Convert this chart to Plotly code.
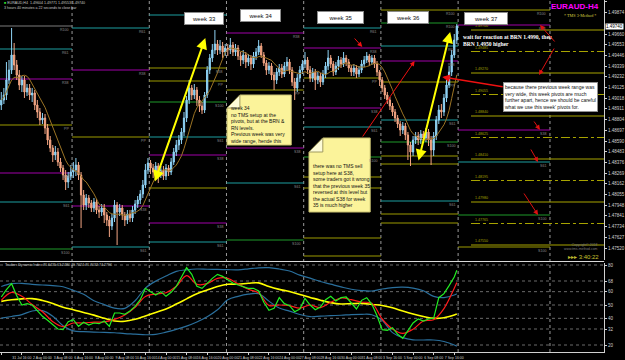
import plotly.graph_objects as go
import pandas as pd

W, H = 625, 360

# ---------------- price data (H4 bars, bar index 0..177) ----------------
first_open = 1.4895
close = [1.4900, 1.4905, 1.4920, 1.4930, 1.4945, 1.4935, 1.4925, 1.4915, 1.4920, 1.4908,
         1.4912, 1.4905, 1.4907, 1.4895, 1.4888, 1.4880, 1.4882, 1.4872, 1.4860, 1.4852,
         1.4845, 1.4848, 1.4838, 1.4832, 1.4825, 1.4818, 1.4824, 1.4828, 1.4830, 1.4835,
         1.4825, 1.4805, 1.4795, 1.4802, 1.4797, 1.4792, 1.4798, 1.4790, 1.4788, 1.4792,
         1.4785, 1.4780, 1.4774, 1.4782, 1.4795, 1.4788, 1.4792, 1.4785, 1.4780, 1.4786,
         1.4782, 1.4790, 1.4796, 1.4800, 1.4806, 1.4815, 1.4830, 1.4837, 1.4832, 1.4828,
         1.4834, 1.4825, 1.4830, 1.4824, 1.4832, 1.4828, 1.4838, 1.4848, 1.4855, 1.4860,
         1.4868, 1.4882, 1.4900, 1.4912, 1.4905, 1.4910, 1.4900, 1.4894, 1.4890, 1.4905,
         1.4930, 1.4942, 1.4950, 1.4956, 1.4950, 1.4954, 1.4948, 1.4952, 1.4950, 1.4955,
         1.4948, 1.4952, 1.4944, 1.4940, 1.4945, 1.4938, 1.4942, 1.4936, 1.4944, 1.4948,
         1.4954, 1.4945, 1.4937, 1.4930, 1.4934, 1.4925, 1.4920, 1.4928, 1.4932, 1.4926,
         1.4934, 1.4938, 1.4930, 1.4918, 1.4912, 1.4922, 1.4930, 1.4936, 1.4940, 1.4930,
         1.4922, 1.4928, 1.4920, 1.4924, 1.4918, 1.4926, 1.4934, 1.4942, 1.4936, 1.4928,
         1.4934, 1.4940, 1.4936, 1.4942, 1.4938, 1.4932, 1.4928, 1.4932, 1.4926, 1.4930,
         1.4936, 1.4940, 1.4944, 1.4938, 1.4942, 1.4936, 1.4928, 1.4920, 1.4912, 1.4905,
         1.4900, 1.4894, 1.4888, 1.4882, 1.4876, 1.4870, 1.4874, 1.4865, 1.4855, 1.4848,
         1.4860, 1.4864, 1.4860, 1.4866, 1.4862, 1.4868, 1.4860, 1.4850, 1.4864, 1.4880,
         1.4890, 1.4888, 1.4902, 1.4915, 1.4928, 1.4945, 1.4960, 1.4974]
high = [1.4908, 1.4912, 1.4938, 1.4940, 1.4972, 1.4957, 1.4940, 1.4930, 1.4924, 1.4924,
        1.4916, 1.4916, 1.4912, 1.4910, 1.4900, 1.4892, 1.4887, 1.4886, 1.4876, 1.4864,
        1.4855, 1.4854, 1.4852, 1.4842, 1.4835, 1.4830, 1.4828, 1.4835, 1.4838, 1.4842,
        1.4838, 1.4828, 1.4810, 1.4806, 1.4805, 1.4800, 1.4802, 1.4801, 1.4794, 1.4796,
        1.4796, 1.4788, 1.4784, 1.4786, 1.4800, 1.4798, 1.4796, 1.4795, 1.4788, 1.4790,
        1.4790, 1.4794, 1.4800, 1.4804, 1.4810, 1.4820, 1.4836, 1.4842, 1.4840, 1.4836,
        1.4838, 1.4837, 1.4834, 1.4834, 1.4836, 1.4835, 1.4842, 1.4852, 1.4860, 1.4865,
        1.4872, 1.4888, 1.4904, 1.4920, 1.4915, 1.4916, 1.4913, 1.4904, 1.4898, 1.4908,
        1.4934, 1.4946, 1.4956, 1.4970, 1.4960, 1.4960, 1.4958, 1.4956, 1.4956, 1.4962,
        1.4958, 1.4956, 1.4955, 1.4948, 1.4950, 1.4948, 1.4946, 1.4945, 1.4948, 1.4952,
        1.4960, 1.4957, 1.4948, 1.4940, 1.4938, 1.4937, 1.4928, 1.4932, 1.4936, 1.4936,
        1.4938, 1.4943, 1.4941, 1.4933, 1.4922, 1.4926, 1.4934, 1.4940, 1.4948, 1.4943,
        1.4934, 1.4932, 1.4931, 1.4928, 1.4927, 1.4930, 1.4938, 1.4950, 1.4945, 1.4939,
        1.4938, 1.4944, 1.4943, 1.4948, 1.4945, 1.4941, 1.4935, 1.4936, 1.4935, 1.4934,
        1.4940, 1.4944, 1.4948, 1.4946, 1.4945, 1.4945, 1.4939, 1.4930, 1.4923, 1.4915,
        1.4908, 1.4903, 1.4897, 1.4891, 1.4885, 1.4879, 1.4878, 1.4877, 1.4868, 1.4858,
        1.4864, 1.4868, 1.4868, 1.4870, 1.4869, 1.4872, 1.4871, 1.4864, 1.4868, 1.4884,
        1.4895, 1.4896, 1.4906, 1.4920, 1.4934, 1.4950, 1.4966, 1.4976]
low = [1.4890, 1.4896, 1.4900, 1.4916, 1.4926, 1.4930, 1.4920, 1.4910, 1.4908, 1.4902,
       1.4904, 1.4900, 1.4898, 1.4890, 1.4882, 1.4875, 1.4876, 1.4866, 1.4855, 1.4848,
       1.4838, 1.4840, 1.4834, 1.4828, 1.4820, 1.4810, 1.4812, 1.4820, 1.4822, 1.4824,
       1.4820, 1.4772, 1.4790, 1.4790, 1.4792, 1.4788, 1.4788, 1.4786, 1.4782, 1.4784,
       1.4777, 1.4774, 1.4763, 1.4770, 1.4778, 1.4755, 1.4784, 1.4780, 1.4774, 1.4776,
       1.4778, 1.4778, 1.4786, 1.4792, 1.4796, 1.4802, 1.4812, 1.4826, 1.4826, 1.4822,
       1.4824, 1.4817, 1.4822, 1.4820, 1.4820, 1.4824, 1.4825, 1.4835, 1.4844, 1.4850,
       1.4856, 1.4864, 1.4878, 1.4896, 1.4900, 1.4901, 1.4894, 1.4888, 1.4886, 1.4887,
       1.4902, 1.4926, 1.4938, 1.4946, 1.4945, 1.4946, 1.4942, 1.4944, 1.4944, 1.4946,
       1.4944, 1.4944, 1.4940, 1.4934, 1.4936, 1.4932, 1.4934, 1.4930, 1.4932, 1.4940,
       1.4945, 1.4942, 1.4934, 1.4925, 1.4926, 1.4920, 1.4910, 1.4916, 1.4924, 1.4922,
       1.4923, 1.4930, 1.4926, 1.4914, 1.4900, 1.4908, 1.4918, 1.4926, 1.4932, 1.4926,
       1.4918, 1.4918, 1.4910, 1.4916, 1.4913, 1.4915, 1.4922, 1.4930, 1.4932, 1.4924,
       1.4925, 1.4930, 1.4932, 1.4933, 1.4934, 1.4928, 1.4924, 1.4924, 1.4922, 1.4923,
       1.4927, 1.4933, 1.4937, 1.4934, 1.4935, 1.4932, 1.4924, 1.4914, 1.4908, 1.4901,
       1.4896, 1.4890, 1.4884, 1.4878, 1.4872, 1.4864, 1.4866, 1.4860, 1.4840, 1.4834,
       1.4844, 1.4856, 1.4855, 1.4856, 1.4857, 1.4858, 1.4854, 1.4835, 1.4844, 1.4860,
       1.4876, 1.4882, 1.4884, 1.4898, 1.4912, 1.4924, 1.4942, 1.4956]

# x-axis (time) tick labels every 8 bars
time_tick_bars = list(range(0, 177, 8))
time_tick_text = ["30 Jul 2018", "31 Jul 16:00", "2 Aug 00:00", "3 Aug 08:00", "6 Aug 16:00",
                  "8 Aug 00:00", "9 Aug 08:00", "10 Aug 16:00", "14 Aug 00:00", "15 Aug 08:00",
                  "16 Aug 16:00", "20 Aug 00:00", "21 Aug 08:00", "22 Aug 16:00", "24 Aug 00:00",
                  "27 Aug 08:00", "28 Aug 16:00", "30 Aug 00:00", "31 Aug 08:00", "3 Sep 16:00",
                  "5 Sep 00:00", "6 Sep 08:00", "7 Sep 16:00"]

# ---------------- weekly pivot levels ----------------
week_names = ["week 31", "week 32", "week 33", "week 34", "week 35", "week 36", "week 37"]
week_start_bar = [0, 28, 58, 88, 118, 148, 178]
next_week_bar = 213.7

w31_levels = [1.4974, 1.4951, 1.4921, 1.4875, 1.4827, 1.4798, 1.4751]
w31_kinds = ["grey", "teal", "purple", "olive", "purple", "teal", "green"]
w31_names = ["R100", "R61", "R38", "PP", "S38", "S61", "S100"]
w32_levels = [1.4972, 1.4930, 1.4863, 1.4794, 1.4753]
w32_kinds = ["teal", "purple", "olive", "purple", "teal"]
w32_names = ["R61", "R38", "PP", "S38", "S61"]
w33_levels = [1.4985, 1.4932, 1.4919, 1.4898, 1.4863, 1.4845, 1.4812, 1.4777, 1.4758]
w33_kinds = ["teal", "olive", "olive", "green", "teal", "purple", "olive", "purple", "teal"]
w33_names = ["R61", "R38", "PP", "S100", "S61", "S38", "", "S38", "S61"]
w34_levels = [1.4967, 1.4910, 1.4852, 1.4817, 1.4760]
w34_kinds = ["purple", "olive", "purple", "teal", "green"]
w34_names = ["R38", "PP", "S38", "S61", "S100"]
w35_levels = [1.4972, 1.4952, 1.4922, 1.4892, 1.4873, 1.4843, 1.4823, 1.4812, 1.4762, 1.4744]
w35_kinds = ["teal", "purple", "olive", "purple", "teal", "green", "olive", "olive", "olive", "olive"]
w35_names = ["R61", "R38", "PP", "S38", "S61", "S100", "", "", "", ""]
w36_levels = [1.4990, 1.4977, 1.4954, 1.4939, 1.4918, 1.4880, 1.4858, 1.4844, 1.4836, 1.4799, 1.4786, 1.4777]
w36_kinds = ["olive", "green", "teal", "purple", "olive", "teal", "green", "olive", "olive", "teal", "olive", "olive"]
w36_names = ["R100", "R100", "R61", "R38", "PP", "S61", "S100", "", "", "S61", "", ""]
w37_levels = [1.4990, 1.4975, 1.4870, 1.4838, 1.4785, 1.4753]
w37_kinds = ["olive", "purple", "purple", "teal", "green", "olive"]
w37_names = ["R100", "R38", "S38", "S61", "S100", "S100"]

# week-37 quarter levels (BRN / RN)
quarter_solid = [1.4970, 1.4927, 1.4884, 1.4841, 1.4798, 1.4755]
quarter_dash = [1.49485, 1.49055, 1.48625, 1.48195, 1.47765]

# ---------------- Traders Dynamic Index ----------------
tdi_fast_bar = list(range(0, 177, 2)) + [177]
tdi_green = [56, 61.5, 66, 57, 50, 51, 50, 45.5, 41.5, 38.5,
             35, 32, 31.5, 37.5, 39, 34, 37, 35, 36.5, 36,
             38, 34, 44, 44, 43, 45.5, 49, 54, 62.5, 60,
             57.5, 60, 56.5, 59.5, 64, 71, 78, 73, 64, 62.5,
             66.5, 70, 73, 71.5, 69, 66.5, 65, 64, 62.5, 62.5,
             60.5, 52, 46, 47.5, 55.5, 51, 49.5, 45, 47, 55,
             50, 46.5, 48.5, 54, 56.5, 53, 55.5, 56, 51.5, 47,
             53.5, 55.5, 50.5, 42, 31.5, 31, 33, 28, 25, 31,
             36.5, 39.5, 38, 39.5, 40, 55.5, 58.5, 64.5, 71, 76]
tdi_slow_bar = list(range(0, 177, 4)) + [177]
tdi_red = [53.5, 59.5, 56.5, 50.3, 45, 37.5, 33.75, 36.5, 36.5, 37.2,
           37.3, 39.2, 42.5, 48.3, 56.4, 58.2, 59.2, 64, 72, 65.5,
           66, 70, 70, 65.8, 61.8, 59, 49.7, 50, 49.5, 47.7,
           50, 48, 52, 55.2, 54, 52.2, 51.25, 39.5, 32, 28.75,
           31.8, 38, 39, 47.3, 62.5, 66.8]
tdi_yellow = [52.7, 53.9, 54.6, 54.8, 53.4, 51.2, 48.3, 46.5, 44.4, 42.4,
              40, 38, 37.8, 39.3, 41.8, 44.4, 47, 50.7, 54.6, 58.5,
              61.2, 63.8, 65.5, 65.6, 66.3, 66.6, 63.8, 61.7, 60.1, 57.8,
              55.7, 53.6, 51.8, 50.8, 51, 51.25, 50.4, 49.6, 47.9, 45.5,
              43.3, 41.4, 40, 40.5, 42.5, 43.2]
tdi_upper = [63.9, 66, 66.25, 65.5, 65, 64.5, 63.7, 61, 58, 53.2,
             50.3, 47.6, 47.5, 53.2, 62.7, 67.9, 71.7, 75.2, 76.4, 77,
             76.8, 76.7, 76.5, 76.4, 77.1, 77.9, 78, 77, 75.5, 72.4,
             70.2, 67.6, 65.6, 63.6, 61.8, 60.8, 60.5, 62, 63.1, 63.4,
             62.7, 60.7, 56.5, 55.6, 57.5, 58.4]
tdi_lower = [40.1, 41.4, 42.8, 45.5, 45.8, 41.6, 34.5, 30.6, 30, 29.6,
             29.5, 29.2, 28.6, 28.2, 27.7, 27.9, 29.6, 31.7, 34.2, 37.3,
             41.2, 46.4, 53.9, 56.5, 58.1, 58.4, 52.9, 47.7, 45.4, 42.9,
             41.25, 41.6, 42, 42.3, 42.8, 43, 42.7, 38.5, 29.3, 25.5,
             23.9, 23.75, 23.75, 22.6, 20, 19]
tdi_levels = [20, 32, 40, 50, 60, 68, 80]

# ---------------- helpers ----------------
def PX(x):
    return x / W


def PY(y):
    return 1 - y / H


X_RIGHT = 612
x_dom = [0, X_RIGHT / W]
x_range = [-0.5, -0.5 + X_RIGHT / 2.607]

line_colors = {"teal": "#1c9ea0", "purple": "#a000a8", "olive": "#9c9a00",
               "green": "#1f9a2a", "grey": "#7c7c7c"}

bars = list(range(len(close)))
opens = [first_open] + close[:-1]
ma = pd.Series(close).rolling(8, min_periods=1).mean()

# price axis ticks (hide the one under the current-price marker)
price_ticks = [1.4752 + 0.00107 * k for k in range(24)]
price_ticks = [t for t in price_ticks if abs(t - close[-1]) > 0.0006]

fig = go.Figure()

fig.add_trace(go.Candlestick(
    x=bars, open=opens, high=high, low=low, close=close,
    increasing=dict(line=dict(color="#8fd3f5", width=1), fillcolor="#8fd3f5"),
    decreasing=dict(line=dict(color="#f4a583", width=1), fillcolor="#f4a583"),
    whiskerwidth=0, xaxis="x", yaxis="y", hoverinfo="skip"))
fig.add_trace(go.Scatter(x=bars, y=ma, mode="lines", xaxis="x", yaxis="y",
                         line=dict(color="#9c7424", width=1), hoverinfo="skip"))

# TDI
fig.add_trace(go.Scatter(x=tdi_slow_bar, y=tdi_upper, mode="lines", xaxis="x2", yaxis="y2",
                         line=dict(color="#2a6f9c", width=1.2, shape="spline")))
fig.add_trace(go.Scatter(x=tdi_slow_bar, y=tdi_lower, mode="lines", xaxis="x2", yaxis="y2",
                         line=dict(color="#2a6f9c", width=1.2, shape="spline")))
fig.add_trace(go.Scatter(x=tdi_slow_bar, y=tdi_yellow, mode="lines", xaxis="x2", yaxis="y2",
                         line=dict(color="#ffff00", width=1.6, shape="spline")))
fig.add_trace(go.Scatter(x=tdi_slow_bar, y=tdi_red, mode="lines", xaxis="x2", yaxis="y2",
                         line=dict(color="#ff1a1a", width=1.2, shape="spline")))
fig.add_trace(go.Scatter(x=tdi_fast_bar, y=tdi_green, mode="lines", xaxis="x2", yaxis="y2",
                         line=dict(color="#22ee22", width=1.2)))

shapes = []
annotations = []

# pivot lines
week_levels = [w31_levels, w32_levels, w33_levels, w34_levels, w35_levels, w36_levels, w37_levels]
week_kinds = [w31_kinds, w32_kinds, w33_kinds, w34_kinds, w35_kinds, w36_kinds, w37_kinds]
week_lnames = [w31_names, w32_names, w33_names, w34_names, w35_names, w36_names, w37_names]
week_ends = week_start_bar[1:] + [next_week_bar]
for k in range(len(week_levels)):
    x0 = week_start_bar[k] - 0.5
    x1 = week_ends[k] - 0.5
    for lv, kind, nm in zip(week_levels[k], week_kinds[k], week_lnames[k]):
        shapes.append(dict(type="line", xref="x", yref="y", x0=x0, x1=x1, y0=lv, y1=lv,
                           line=dict(color=line_colors[kind], width=1.2), layer="below"))
        if nm:
            annotations.append(dict(xref="x", yref="y", x=x1 - 0.6, y=lv, text=nm,
                                    showarrow=False, xanchor="right", yanchor="top",
                                    font=dict(size=3.6, color="#8c8c8c")))

q_start = week_start_bar[-1] + 4.5
for lv in quarter_solid:
    shapes.append(dict(type="line", xref="x", yref="y", x0=q_start, x1=x_range[1], y0=lv, y1=lv,
                       line=dict(color="#a8a400", width=1.2), layer="below"))
    annotations.append(dict(xref="x", yref="y", x=q_start + 0.8, y=lv, text=f"{lv:.5f}",
                            showarrow=False, xanchor="left", yanchor="bottom",
                            font=dict(size=3.6, color="#a8a400")))
for lv in quarter_dash:
    shapes.append(dict(type="line", xref="x", yref="y", x0=q_start, x1=x_range[1], y0=lv, y1=lv,
                       line=dict(color="#a8a400", width=1, dash="dashdot"), layer="below"))
    annotations.append(dict(xref="x", yref="y", x=q_start + 0.8, y=lv, text=f"{lv:.5f}",
                            showarrow=False, xanchor="left", yanchor="bottom",
                            font=dict(size=3.6, color="#a8a400")))

# week separators
for b in week_start_bar[1:] + [next_week_bar]:
    shapes.append(dict(type="line", xref="x", yref="paper", x0=b - 0.5, x1=b - 0.5,
                       y0=PY(352), y1=1, line=dict(color="#9a9a9a", width=1, dash="dot"),
                       layer="below"))

# TDI levels
for lv in tdi_levels:
    shapes.append(dict(type="line", xref="x domain", yref="y2", x0=0, x1=1, y0=lv, y1=lv,
                       line=dict(color="#6a6a6a", width=1, dash="dot"), layer="below"))

# panel separator
shapes.append(dict(type="line", xref="paper", yref="paper", x0=0, x1=PX(X_RIGHT),
                   y0=PY(261.5), y1=PY(261.5), line=dict(color="#d8d8d8", width=1.2)))


# sticky notes
def note(x0, y0, x1, y1, c):
    shapes.append(dict(type="path", xref="paper", yref="paper",
                       path=(f"M {PX(x0 + c)},{PY(y0)} L {PX(x1)},{PY(y0)} L {PX(x1)},{PY(y1)} "
                             f"L {PX(x0)},{PY(y1)} L {PX(x0)},{PY(y0 + c)} Z"),
                       fillcolor="#fbf39a", line=dict(color="#c8c070", width=1)))
    shapes.append(dict(type="path", xref="paper", yref="paper",
                       path=(f"M {PX(x0)},{PY(y0 + c)} L {PX(x0 + c)},{PY(y0 + c)} "
                             f"L {PX(x0 + c)},{PY(y0)} Z"),
                       fillcolor="#fdfbd8", line=dict(color="#a09a60", width=1)))


note(230, 95, 295, 145, 13)
note(313, 138, 375, 212, 14)

annotations.append(dict(xref="paper", yref="paper", x=PX(232), y=PY(103), xanchor="left",
                        yanchor="top", align="left", showarrow=False,
                        font=dict(size=5, color="#111111", family="Liberation Sans"),
                        text=("week 34<br>no TMS setup at the<br>pivots, but at the BRN &amp;<br>"
                              "RN levels.<br>Previous week was very<br>wide range, hende this")))
annotations.append(dict(xref="paper", yref="paper", x=PX(315), y=PY(161), xanchor="left",
                        yanchor="top", align="left", showarrow=False,
                        font=dict(size=5, color="#111111", family="Liberation Sans"),
                        text=("there was no TMS sell<br>setup here at S38,<br>some traders got it wrong<br>"
                              "that the previous week 35<br>reversed at this level but<br>"
                              "the actual S38 for week<br>35 is much higher")))

# white comment box
annotations.append(dict(xref="paper", yref="paper", x=PX(510), y=PY(82), xanchor="left",
                        yanchor="top", align="left", showarrow=False, bgcolor="#ffffff",
                        bordercolor="#909090", borderwidth=1, borderpad=1,
                        font=dict(size=5, color="#111111", family="Liberation Sans"),
                        text=("because there previous week range was<br>very wide, this week pivots are much<br>"
                              "further apart, hence we should be careful<br>what we use this week' pivots for.")))

# white serif remark
annotations.append(dict(xref="paper", yref="paper", x=PX(467), y=PY(32), xanchor="left",
                        yanchor="top", align="left", showarrow=False,
                        font=dict(size=5.6, color="#ffffff", family="Liberation Serif"),
                        text="<b>wait for reaction at BRN 1.4990, then<br>BRN 1.4950 higher</b>"))

# week boxes
for nm, cx, cy, wd in [("week 33", 186, 12.5, 36), ("week 34", 264, 9, 37), ("week 35", 345, 10.5, 43),
                       ("week 36", 413, 11, 38), ("week 37", 515, 12, 40)]:
    annotations.append(dict(xref="paper", yref="paper", x=PX(cx), y=PY(cy), text=nm,
                            showarrow=False, bgcolor="#ffffff", bordercolor="#8a8a8a",
                            borderwidth=1, width=wd, height=9,
                            font=dict(size=6, color="#111111", family="Liberation Sans")))

# title texts
annotations.append(dict(xref="paper", yref="paper", x=PX(609), y=PY(6), xanchor="right",
                        yanchor="middle", showarrow=False, text="<b>EURAUD-H4</b>",
                        font=dict(size=8, color="#ff00ff", family="Liberation Sans")))
annotations.append(dict(xref="paper", yref="paper", x=PX(606), y=PY(16), xanchor="right",
                        yanchor="middle", showarrow=False, text="* TMS 3-Method *",
                        font=dict(size=4.2, color="#d8d040", family="Liberation Serif")))
annotations.append(dict(xref="paper", yref="paper", x=PX(2), y=PY(3.5), xanchor="left",
                        yanchor="middle", showarrow=False,
                        text="<span style='color:#30e030'>■</span> EURAUD,H4  1.49604 1.49771 1.49553 1.49740",
                        font=dict(size=3.6, color="#c8c8c8", family="Liberation Sans")))
annotations.append(dict(xref="paper", yref="paper", x=PX(2), y=PY(8), xanchor="left",
                        yanchor="middle", showarrow=False,
                        text="3 hours 40 minutes a 22 seconds to close bar",
                        font=dict(size=3.6, color="#c8c8c8", family="Liberation Sans")))
annotations.append(dict(xref="paper", yref="paper", x=PX(3), y=PY(265), xanchor="left",
                        yanchor="middle", showarrow=False,
                        text="Traders Dynamic Index 76.6435 63.2480 49.7024 76.7032 74.2796",
                        font=dict(size=3.6, color="#c8c8c8", family="Liberation Sans")))
annotations.append(dict(xref="paper", yref="paper", x=PX(608), y=PY(247), xanchor="right",
                        yanchor="middle", showarrow=False, align="right",
                        text="Copyright© 2018<br>www.tms-method.com",
                        font=dict(size=3.4, color="#7a7a7a", family="Liberation Sans")))
annotations.append(dict(xref="paper", yref="paper", x=PX(609), y=PY(257), xanchor="right",
                        yanchor="middle", showarrow=False, text="▸▸▸ 3:40:22",
                        font=dict(size=6, color="#c8c030", family="Liberation Sans")))

# current price marker on axis
annotations.append(dict(xref="paper", yref="y", x=PX(613), y=close[-1], xanchor="left",
                        yanchor="middle", showarrow=False, text=f"{close[-1]:.5f}",
                        bgcolor="#ffffff", borderpad=0,
                        font=dict(size=4.5, color="#000000", family="Liberation Sans")))


# arrows (pixel based callouts)
def arrow(x0, y0, x1, y1, color, width, both=False, size=1.0):
    annotations.append(dict(xref="paper", yref="paper", x=PX(x1), y=PY(y1), ax=x0 - x1, ay=y0 - y1,
                            axref="pixel", ayref="pixel", text="", showarrow=True,
                            arrowhead=2, arrowsize=size, arrowwidth=width, arrowcolor=color,
                            arrowside="end+start" if both else "end", standoff=0, startstandoff=0))


arrow(157, 183, 208, 38, "#ffff00", 2, both=True, size=1.1)
arrow(424, 162, 456, 32, "#ffff00", 2, both=True, size=1.1)
arrow(358, 37, 367, 47, "#ee1111", 1)
arrow(367, 138, 420, 61, "#ee1111", 1)
arrow(510, 87, 448, 77, "#ee1111", 1.5)
arrow(563, 43, 547, 25, "#dd1111", 1)
arrow(562, 47, 546, 75, "#dd1111", 1)
arrow(540, 120, 547, 130, "#dd1111", 1)
arrow(537, 148, 545, 162, "#dd1111", 1)
arrow(530, 192, 545, 215, "#dd1111", 1)

fig.update_layout(
    width=W, height=H, margin=dict(l=0, r=0, t=0, b=0),
    paper_bgcolor="#000000", plot_bgcolor="#000000", showlegend=False,
    font=dict(family="Liberation Sans", color="#c8c8c8", size=5),
    shapes=shapes, annotations=annotations,
    xaxis=dict(domain=x_dom, range=x_range, anchor="y", showgrid=False, zeroline=False,
               showticklabels=False, rangeslider=dict(visible=False), showline=False),
    yaxis=dict(domain=[PY(260), 1], range=[1.4740, 1.5000], side="right", anchor="x",
               showgrid=False, zeroline=False, showline=True, linecolor="#d0d0d0", linewidth=1,
               ticks="outside", ticklen=2, tickcolor="#d0d0d0", tickvals=price_ticks,
               tickformat=".5f", tickfont=dict(size=4.5, color="#d0d0d0")),
    xaxis2=dict(domain=x_dom, range=x_range, anchor="y2", matches="x", showgrid=False,
                zeroline=False, showline=True, linecolor="#d0d0d0", ticks="outside", ticklen=2,
                tickcolor="#d0d0d0", tickvals=time_tick_bars, ticktext=time_tick_text,
                tickangle=0, tickfont=dict(size=3.5, color="#d0d0d0")),
    yaxis2=dict(domain=[PY(352), PY(263)], range=[14.75, 81.5], side="right", anchor="x2",
                showgrid=False, zeroline=False, showline=True, linecolor="#d0d0d0",
                ticks="outside", ticklen=2, tickcolor="#d0d0d0", tickvals=tdi_levels,
                tickfont=dict(size=4.5, color="#d0d0d0")),
)

fig.write_html("out.html")
